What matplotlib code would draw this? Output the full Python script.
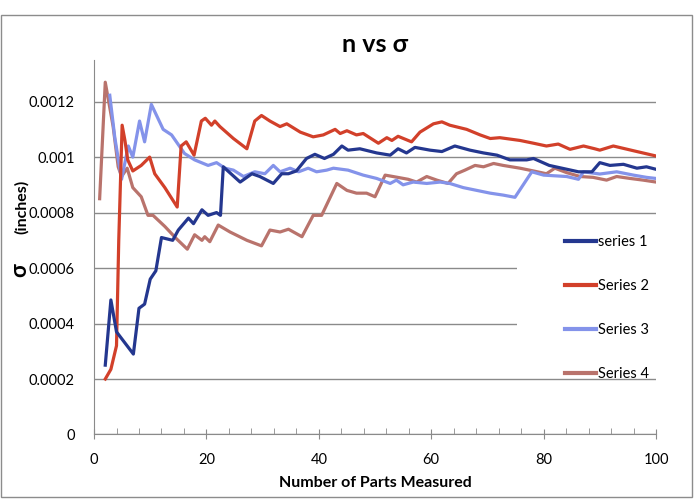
import matplotlib
matplotlib.use('Agg')
import matplotlib.pyplot as plt
from matplotlib.patches import Rectangle

plt.rcParams['font.family'] = ['Lato', 'DejaVu Sans']

# series (n, sigma in inches)
s1_n = [2, 3, 4, 7, 8, 9, 10, 11, 12, 14, 15, 16.8, 17.7, 19.2, 20.3, 21.8, 22.5, 23,
        26, 28.1, 29.5, 31.9, 33.4, 34.6, 36, 37.8, 39.3, 41, 42.6, 44.1, 45.2, 47.3,
        50.3, 52.7, 54.1, 55.6, 57.1, 59.8, 61.9, 64.2, 66.9, 69.3, 71.7, 74, 77, 78.2,
        81, 86.2, 88.6, 90, 91.8, 94.2, 96.6, 98.3, 100]
s1_v = [0.00025, 0.000485, 0.00037, 0.00029, 0.000455, 0.00047, 0.00056, 0.00059, 0.00071,
        0.0007, 0.000737, 0.00078, 0.00076, 0.00081, 0.00079, 0.0008, 0.00079, 0.000965,
        0.00091, 0.00094, 0.00093, 0.000905, 0.00094, 0.00094, 0.00095, 0.000995, 0.00101,
        0.000995, 0.00101, 0.00104, 0.001025, 0.00103, 0.001015, 0.001007, 0.00103,
        0.001015, 0.001035, 0.001025, 0.00102, 0.00104, 0.001025, 0.001015, 0.001007,
        0.00099, 0.00099, 0.000995, 0.00097, 0.000947, 0.000947, 0.00098, 0.00097,
        0.000974, 0.00096, 0.000965, 0.000956]

s2_n = [2, 3, 4, 4.4, 5, 5.5, 6, 6.9, 8.4, 9.9, 10.8, 12.6, 14.8, 15.5, 16.4, 17.8, 19.1,
        19.8, 20.9, 21.5, 22.4, 24.8, 27.2, 28.6, 29.8, 31.3, 33.1, 34.3, 36.7, 39, 40.8,
        42.9, 43.8, 45, 46.7, 47.9, 50.6, 52.1, 53, 54.1, 56.5, 58, 60.4, 61.9, 63.3,
        66.3, 68.7, 70.5, 72.2, 75.8, 78.2, 80.5, 82.6, 84.7, 87.1, 89.1, 90, 92.4,
        96.6, 100]
s2_v = [0.0002, 0.000235, 0.00032, 0.0007, 0.001115, 0.00106, 0.00099, 0.00095, 0.00097,
        0.001, 0.00094, 0.00089, 0.00082, 0.00104, 0.001055, 0.001007, 0.00113, 0.00114,
        0.001115, 0.00113, 0.00111, 0.001067, 0.00103, 0.00113, 0.00115, 0.00113, 0.00111,
        0.00112, 0.00109, 0.001073, 0.00108, 0.0011, 0.001085, 0.001095, 0.00108, 0.001085,
        0.00105, 0.00107, 0.00106, 0.001075, 0.001055, 0.00109, 0.00112, 0.001127,
        0.001115, 0.0011, 0.00108, 0.001067, 0.00107, 0.00106, 0.00105, 0.00104, 0.001047,
        0.001028, 0.00104, 0.00103, 0.001025, 0.00104, 0.00102, 0.001004]

s3_n = [2.8, 3.7, 4.9, 6.1, 6.9, 8.1, 9, 10.2, 12.3, 13.8, 16.1, 17.9, 20.3, 21.8, 23.3,
        24.8, 26.6, 28.6, 30.4, 31.9, 33.1, 34.9, 36.4, 38.1, 39.6, 41.4, 42.6, 45.2,
        47.9, 50.3, 52.7, 53.8, 55, 56.8, 59.2, 61.6, 63.3, 65.7, 68.1, 70.5, 72.8, 74.9,
        77.9, 80, 84.1, 86.2, 87.1, 90, 93, 96, 98.3, 100]
s3_v = [0.001223, 0.00107, 0.00092, 0.00104, 0.001, 0.00113, 0.001055, 0.00119, 0.0011,
        0.00108, 0.001013, 0.00099, 0.00097, 0.00098, 0.00096, 0.000953, 0.00093,
        0.000947, 0.00094, 0.00097, 0.000947, 0.00096, 0.000947, 0.00096, 0.000947,
        0.000953, 0.00096, 0.000953, 0.000935, 0.000923, 0.000905, 0.000917, 0.0009,
        0.00091, 0.000905, 0.00091, 0.000905, 0.00089, 0.00088, 0.00087, 0.000863,
        0.000855, 0.000947, 0.000935, 0.00093, 0.00092, 0.000947, 0.000939, 0.000947,
        0.000935, 0.000927, 0.000923]

s4_n = [1, 2, 3.4, 4.3, 4.9, 5.9, 6.9, 8.4, 9.6, 10.5, 12.6, 14.6, 16.6, 17.9, 19.2, 19.7,
        20.6, 22.1, 24.2, 27.2, 29.8, 31.3, 33.1, 34.6, 37, 39, 40.5, 43.2, 45, 46.7,
        48.5, 50, 51.8, 53.2, 55.9, 57.4, 59.2, 61, 63, 64.5, 66, 67.8, 69.3, 71.1, 72.8,
        75.8, 78.2, 80.5, 82, 84.1, 86.5, 88.8, 91.2, 93, 95.4, 97.7, 100]
s4_v = [0.00085, 0.00127, 0.00111, 0.000965, 0.00093, 0.00096, 0.00089, 0.000857, 0.00079,
        0.00079, 0.00075, 0.000707, 0.000668, 0.00072, 0.0007, 0.000713, 0.000695,
        0.000755, 0.00073, 0.0007, 0.00068, 0.000737, 0.00073, 0.00074, 0.000713, 0.00079,
        0.00079, 0.000905, 0.00088, 0.00087, 0.00087, 0.000857, 0.000935, 0.00093,
        0.00092, 0.00091, 0.00093, 0.000917, 0.000905, 0.00094, 0.000953, 0.00097,
        0.000965, 0.000977, 0.00097, 0.00096, 0.00095, 0.00094, 0.00096, 0.000944,
        0.00093, 0.000927, 0.000917, 0.00093, 0.000923, 0.000917, 0.00091]

labels = ['series 1', 'Series 2', 'Series 3', 'Series 4']
colors = ['#24378f', '#d2402a', '#8493ea', '#b9736c']

fig = plt.figure(figsize=(6.97, 5.03), dpi=100)
ax = fig.add_axes([0.1349, 0.1362, 0.8063, 0.7445])

ax.plot(s1_n, s1_v, color=colors[0], lw=2.3, label=labels[0], zorder=5)
ax.plot(s2_n, s2_v, color=colors[1], lw=2.3, label=labels[1], zorder=4)
ax.plot(s3_n, s3_v, color=colors[2], lw=2.3, label=labels[2], zorder=3)
ax.plot(s4_n, s4_v, color=colors[3], lw=2.3, label=labels[3], zorder=2)

ax.set_xlim(0, 100)
ax.set_ylim(0, 0.00135)
ax.set_xticks([0, 20, 40, 60, 80, 100])
ax.set_xticks(range(0, 101, 4), minor=True)
ax.set_yticks([0, 0.0002, 0.0004, 0.0006, 0.0008, 0.001, 0.0012])
ax.set_yticklabels(['0', '0.0002', '0.0004', '0.0006', '0.0008', '0.001', '0.0012'])
ax.grid(axis='y', color='#8a8a8a', lw=1.0, zorder=0)
ax.set_axisbelow(True)

for side in ['top', 'right']:
  ax.spines[side].set_visible(False)
for side in ['left', 'bottom']:
  ax.spines[side].set_color('#8a8a8a')
ax.tick_params(axis='x', which='major', direction='inout', length=7, color='#8a8a8a',
               labelsize=10.5, pad=10)
ax.tick_params(axis='x', which='minor', direction='in', length=4, color='#8a8a8a')
ax.tick_params(axis='y', which='major', length=0, labelsize=10.5, pad=14)

# white patch behind the legend hides the grid there
ax.add_patch(Rectangle((0.753, 0.17), 0.26, 0.39, transform=ax.transAxes,
                       facecolor='white', edgecolor='none', zorder=1, clip_on=False))

leg = ax.legend(loc='center left', bbox_to_anchor=(0.815, 0.337), frameon=False,
                handlelength=2.1, handletextpad=0.15, labelspacing=2.05, fontsize=10.5)
for h in leg.get_lines():
  h.set_linewidth(3)

ax.set_title('n vs σ', fontsize=18, fontweight='bold', pad=6)
ax.set_xlabel('Number of Parts Measured', fontsize=11.5, fontweight='bold', labelpad=6)

fig.text(20 / 697, 1 - 270 / 503, 'σ', rotation=90, fontsize=16, fontweight='bold',
         ha='center', va='center')
fig.text(22 / 697, 1 - 207 / 503, '(inches)', rotation=90, fontsize=11.5, fontweight='bold',
         ha='center', va='center')

fig.patches.append(Rectangle((1 / 697, 1 - 497 / 503), 691 / 697, 482 / 503,
                             transform=fig.transFigure, fill=False, edgecolor='#8c8c8c', lw=1))

fig.savefig('out.png', dpi=100)
